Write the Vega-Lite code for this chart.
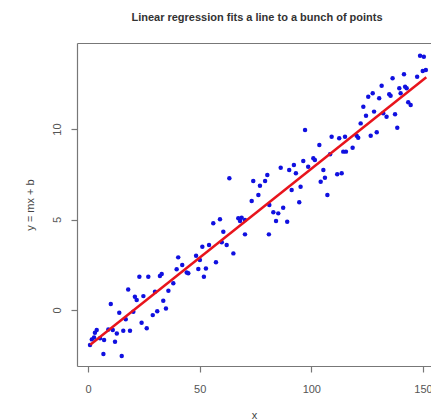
{
  "$schema": "https://vega.github.io/schema/vega-lite/v6.json",
  "width": 354,
  "height": 323,
  "autosize": {"type": "none"},
  "padding": {"left": 77, "top": 43, "right": 0, "bottom": 53},
  "background": "white",
  "title": {
    "text": "Linear regression fits a line to a bunch of points",
    "font": "Liberation Sans",
    "fontSize": 11,
    "fontWeight": "bold",
    "color": "#333333",
    "anchor": "middle",
    "dx": 3,
    "offset": 20
  },
  "config": {
    "view": {"stroke": null},
    "axis": {
      "labelFont": "Liberation Sans",
      "titleFont": "Liberation Sans",
      "labelFontSize": 11,
      "titleFontSize": 11,
      "titleFontWeight": "normal",
      "labelColor": "#555555",
      "titleColor": "#444444",
      "domainColor": "#777777",
      "tickColor": "#777777",
      "domainWidth": 1.2,
      "tickWidth": 1.2,
      "tickSize": 6,
      "grid": false
    }
  },
  "datasets": {
    "pts": [
      {"x": 0.9, "y": -1.93}, {"x": 1.7, "y": -1.62}, {"x": 2.7, "y": -1.51}, {"x": 3.1, "y": -1.25},
      {"x": 3.9, "y": -1.1}, {"x": 5.4, "y": -1.56}, {"x": 6.9, "y": -2.43}, {"x": 7.2, "y": -1.66},
      {"x": 9.1, "y": -1.07}, {"x": 10.2, "y": 0.33}, {"x": 11.1, "y": -1.1}, {"x": 12.1, "y": -1.75},
      {"x": 12.9, "y": -1.29}, {"x": 14.0, "y": -0.15}, {"x": 15.1, "y": -2.54}, {"x": 15.8, "y": -1.14},
      {"x": 16.9, "y": -0.51}, {"x": 18.0, "y": 1.14}, {"x": 18.8, "y": -1.14}, {"x": 20.3, "y": -0.09},
      {"x": 21.0, "y": 0.73}, {"x": 21.8, "y": 0.55}, {"x": 23.0, "y": 1.84}, {"x": 24.0, "y": -0.7},
      {"x": 24.8, "y": 0.77}, {"x": 26.3, "y": -1.01}, {"x": 27.0, "y": 1.84}, {"x": 29.0, "y": -0.28},
      {"x": 30.0, "y": 1.01}, {"x": 31.0, "y": -0.06}, {"x": 32.2, "y": 1.88}, {"x": 33.0, "y": 1.99},
      {"x": 33.7, "y": 0.51}, {"x": 34.9, "y": 0.09}, {"x": 36.0, "y": 1.07}, {"x": 38.2, "y": 1.48},
      {"x": 39.7, "y": 2.25}, {"x": 40.4, "y": 2.91}, {"x": 42.2, "y": 2.49}, {"x": 44.2, "y": 2.08},
      {"x": 44.9, "y": 2.03}, {"x": 48.4, "y": 3.0}, {"x": 49.4, "y": 2.27}, {"x": 50.1, "y": 2.76},
      {"x": 51.2, "y": 3.5}, {"x": 51.9, "y": 1.84}, {"x": 52.8, "y": 2.3}, {"x": 54.2, "y": 3.59},
      {"x": 56.1, "y": 4.79}, {"x": 57.3, "y": 2.64}, {"x": 59.1, "y": 5.01}, {"x": 59.9, "y": 3.74},
      {"x": 60.6, "y": 4.33}, {"x": 62.1, "y": 3.59}, {"x": 63.3, "y": 7.28}, {"x": 65.1, "y": 3.13},
      {"x": 67.3, "y": 5.07}, {"x": 68.1, "y": 4.92}, {"x": 68.8, "y": 5.1}, {"x": 70.3, "y": 4.97},
      {"x": 70.3, "y": 4.18}, {"x": 73.3, "y": 6.02}, {"x": 74.0, "y": 7.13}, {"x": 76.3, "y": 6.35},
      {"x": 77.0, "y": 6.87}, {"x": 79.3, "y": 7.13}, {"x": 80.3, "y": 7.46}, {"x": 81.0, "y": 4.18},
      {"x": 81.2, "y": 5.8}, {"x": 83.0, "y": 5.4}, {"x": 84.2, "y": 4.92}, {"x": 85.2, "y": 5.34},
      {"x": 86.3, "y": 7.86}, {"x": 87.4, "y": 5.65}, {"x": 89.2, "y": 4.88}, {"x": 90.1, "y": 7.73},
      {"x": 91.2, "y": 6.63}, {"x": 92.2, "y": 8.01}, {"x": 93.1, "y": 7.55}, {"x": 94.6, "y": 5.95},
      {"x": 95.2, "y": 6.81}, {"x": 96.4, "y": 8.23}, {"x": 97.2, "y": 9.94}, {"x": 98.6, "y": 7.92},
      {"x": 100.9, "y": 8.38}, {"x": 101.6, "y": 8.29}, {"x": 103.6, "y": 9.12}, {"x": 104.2, "y": 7.09},
      {"x": 105.4, "y": 7.73}, {"x": 106.1, "y": 7.31}, {"x": 107.2, "y": 6.35}, {"x": 108.4, "y": 8.6},
      {"x": 109.1, "y": 9.57}, {"x": 111.6, "y": 7.5}, {"x": 112.5, "y": 9.49}, {"x": 113.6, "y": 7.55},
      {"x": 114.3, "y": 8.75}, {"x": 115.1, "y": 9.57}, {"x": 115.5, "y": 8.75}, {"x": 118.5, "y": 8.97},
      {"x": 120.3, "y": 9.63}, {"x": 121.0, "y": 9.52}, {"x": 122.1, "y": 10.31}, {"x": 123.3, "y": 11.23},
      {"x": 124.5, "y": 10.73}, {"x": 125.5, "y": 11.78}, {"x": 126.6, "y": 9.63}, {"x": 127.5, "y": 11.97},
      {"x": 128.1, "y": 10.96}, {"x": 129.3, "y": 9.82}, {"x": 130.4, "y": 11.7}, {"x": 131.5, "y": 12.39},
      {"x": 132.2, "y": 10.87}, {"x": 133.7, "y": 10.68}, {"x": 134.9, "y": 11.92}, {"x": 135.5, "y": 11.84},
      {"x": 136.4, "y": 12.8}, {"x": 137.5, "y": 10.81}, {"x": 138.5, "y": 10.07}, {"x": 139.4, "y": 12.25},
      {"x": 140.0, "y": 11.97}, {"x": 141.5, "y": 13.02}, {"x": 142.0, "y": 12.34}, {"x": 142.7, "y": 12.25},
      {"x": 143.4, "y": 11.48}, {"x": 144.5, "y": 11.33}, {"x": 147.4, "y": 12.89}, {"x": 148.7, "y": 14.05},
      {"x": 149.9, "y": 13.2}, {"x": 150.4, "y": 13.99}, {"x": 151.3, "y": 13.26}
    ],
    "fit": [
      {"x": 1, "y": -1.92},
      {"x": 151.5, "y": 12.86}
    ]
  },
  "layer": [
    {
      "data": {"name": "pts"},
      "mark": {"type": "circle", "color": "#1010e0", "opacity": 1, "size": 20},
      "encoding": {
        "x": {
          "field": "x", "type": "quantitative",
          "scale": {"domain": [-4.93, 153.6], "nice": false, "zero": false},
          "axis": {"orient": "bottom", "values": [0, 50, 100, 150], "title": "x", "labelPadding": 11, "titlePadding": 15}
        },
        "y": {
          "field": "y", "type": "quantitative",
          "scale": {"domain": [-3.09, 14.75], "nice": false, "zero": false},
          "axis": {"orient": "left", "values": [0, 5, 10], "title": "y = mx + b", "labelAngle": -90, "labelAlign": "center", "labelBaseline": "bottom", "labelPadding": 9, "titlePadding": 16}
        }
      }
    },
    {
      "data": {"name": "fit"},
      "mark": {"type": "line", "color": "#e8141c", "strokeWidth": 2.5},
      "encoding": {
        "x": {
          "field": "x", "type": "quantitative",
          "scale": {"domain": [-4.93, 153.6], "nice": false, "zero": false},
          "axis": {"orient": "top", "labels": false, "ticks": false, "title": null, "domain": true}
        },
        "y": {
          "field": "y", "type": "quantitative",
          "scale": {"domain": [-3.09, 14.75], "nice": false, "zero": false},
          "axis": null
        }
      }
    }
  ],
  "resolve": {"axis": {"x": "independent", "y": "independent"}}
}
